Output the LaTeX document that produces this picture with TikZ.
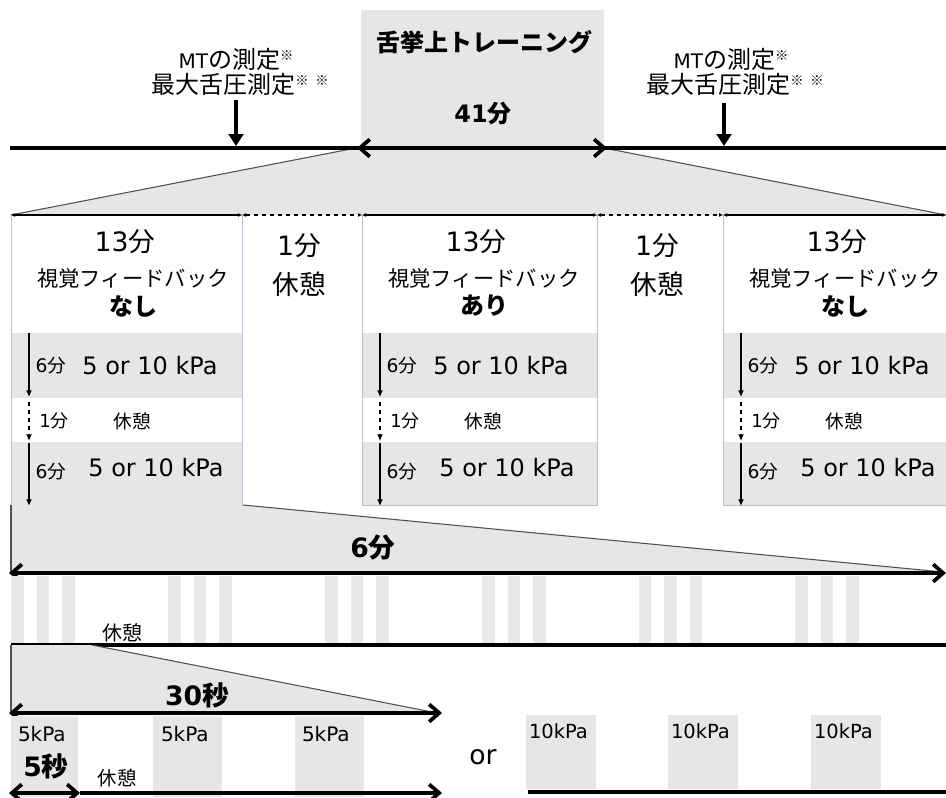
\documentclass[tikz,border=0pt]{standalone}
\usepackage{fontspec}
\setmainfont{DejaVu Sans}
\newfontfamily\cjkf{Noto Sans CJK JP}
\newcommand\jj[1]{{\cjkf #1}}
\usetikzlibrary{arrows.meta}
\definecolor{lg}{HTML}{E6E6E6}
\definecolor{stripe}{HTML}{E8E8E8}
\definecolor{bordc}{HTML}{B8C0D2}
\definecolor{edgec}{HTML}{505050}
\begin{document}
\begin{tikzpicture}[x=0.75pt,y=-0.75pt,
  every node/.style={inner sep=0pt,outer sep=0pt},
  bb/.tip={Straight Barb[length=7.5pt,width=13pt]},
  sm/.tip={Latex[length=3pt,width=3pt]},
  vt/.tip={Latex[length=5pt,width=4.5pt]},
  thickline/.style={line width=2.8pt},
  edgeline/.style={draw=edgec,line width=0.8pt},
  boxline/.style={draw=bordc,line width=0.7pt},
  segline/.style={line width=1.2pt},
  vline/.style={line width=1.3pt}]
\useasboundingbox (0,0) rectangle (946,797);

% ---------- top gray areas ----------
\fill[lg] (361,10) rectangle (604,148);
\fill[lg] (356,148) -- (604,148) -- (946,215) -- (11,215) -- cycle;
\coordinate (tpL) at (356,148); \coordinate (tpR) at (604,148);
\coordinate (tbL) at (11,215);  \coordinate (tbR) at (946,215);
\draw[edgeline] (tpL) -- (tbL);
\draw[edgeline] (tpR) -- (tbR);

% main time line
\coordinate (mL) at (10,148); \coordinate (mR) at (946,148);
\draw[thickline] (mL) -- (mR);
\coordinate (tA) at (357,148); \coordinate (tB) at (607,148);
\draw[thickline,bb-bb] (tA) -- (tB);

\node[font=\bfseries\fontsize{18}{18}\selectfont] (title) at (484,42) {\jj{舌挙上トレーニング}};
\node[font=\bfseries\fontsize{18}{18}\selectfont] (t41) at (483,114) {41\jj{分}};

% measurement arrows
\coordinate (m1s) at (236,100); \coordinate (m1e) at (236,146);
\coordinate (m2s) at (724,103); \coordinate (m2e) at (724,146);
\draw[line width=3.2pt,-{Triangle[length=9pt,width=11pt]}] (m1s) -- (m1e);
\draw[line width=3.2pt,-{Triangle[length=9pt,width=11pt]}] (m2s) -- (m2e);
\foreach \cx/\nm in {236/a,731/b}{
  \node[font=\fontsize{18}{18}\selectfont] (mt\nm) at (\cx,59)
    {{\fontsize{15}{15}\selectfont MT}\jj{の測定}\raisebox{0.6ex}{\fontsize{10}{10}\selectfont\jj{※}}};
  \node[font=\fontsize{18}{18}\selectfont] (mx\nm) at (\cx+4,84)
    {\jj{最大舌圧測定}\raisebox{0.6ex}{\fontsize{10}{10}\selectfont\jj{※}\hspace{5pt}\jj{※}}};
}

% ---------- the five blocks ----------
\foreach \x/\w in {11/231,362/235,723/230}{
  \fill[lg] (\x,333) rectangle ++(\w,65);
  \fill[lg] (\x,442) rectangle ++(\w,63);
}
\draw[boxline] (11,215) rectangle (242,505);
\draw[boxline] (362,215) rectangle (597,505);
\draw[boxline] (723,215) rectangle (950,505);

% segment line
\coordinate (s0) at (11,215); \coordinate (s1) at (242,215);
\coordinate (s2) at (362,215); \coordinate (s3) at (597,215);
\coordinate (s4) at (723,215); \coordinate (s5) at (946,215);
\draw[segline,sm-sm] (s0) -- (s1);
\draw[segline,dashed,sm-sm] (s1) -- (s2);
\draw[segline,sm-sm] (s2) -- (s3);
\draw[segline,dashed,sm-sm] (s3) -- (s4);
\draw[segline,sm-sm] (s4) -- (s5);

% block contents
\foreach \x/\fb/\nm in {11/なし/a,362/あり/b,723/なし/c}{
  \node[font=\fontsize{20}{20}\selectfont] (h\nm) at (\x+114,242) {13\jj{分}};
  \node[font=\fontsize{16}{16}\selectfont] (v\nm) at (\x+122,278) {\jj{視覚フィードバック}};
  \node[font=\bfseries\fontsize{18}{18}\selectfont] (f\nm) at (\x+122,306) {\jj{\fb}};
  \node[font=\fontsize{14}{14}\selectfont] (p\nm) at (\x+40,366) {6\jj{分}};
  \node[font=\fontsize{18}{18}\selectfont] (k\nm) at (\x+139,366) {5 or 10 kPa};
  \node[font=\fontsize{13.5}{14}\selectfont] (r\nm) at (\x+43,421) {1\jj{分}};
  \node[font=\fontsize{14}{14}\selectfont] (q\nm) at (\x+121,421) {\jj{休憩}};
  \node[font=\fontsize{14}{14}\selectfont] (u\nm) at (\x+40,472) {6\jj{分}};
  \node[font=\fontsize{18}{18}\selectfont] (w\nm) at (\x+145,468) {5 or 10 kPa};
  \coordinate (va\nm) at (\x+18,333); \coordinate (vb\nm) at (\x+18,397);
  \coordinate (vc\nm) at (\x+18,402); \coordinate (vd\nm) at (\x+18,441);
  \coordinate (ve\nm) at (\x+18,443); \coordinate (vf\nm) at (\x+18,506);
  \draw[vline,-vt] (va\nm) -- (vb\nm);
  \draw[vline,dashed,-vt] (vc\nm) -- (vd\nm);
  \draw[vline,-vt] (ve\nm) -- (vf\nm);
}
\foreach \x/\nm in {299/a,657/b}{
  \node[font=\fontsize{20}{20}\selectfont] (rest\nm) at (\x,246) {1\jj{分}};
  \node[font=\fontsize{20}{20}\selectfont] (restb\nm) at (\x,284) {\jj{休憩}};
}

% ---------- 6 minutes ----------
\fill[lg] (11,505) -- (243,505) -- (943,572) -- (11,572) -- cycle;
\coordinate (z1) at (11,505); \coordinate (z2) at (11,572);
\coordinate (z3) at (243,505); \coordinate (z4) at (943,572);
\draw[edgeline] (z1) -- (z2);
\draw[edgeline] (z3) -- (z4);
\coordinate (six1) at (9,573); \coordinate (six2) at (946,573);
\draw[thickline,bb-bb] (six1) -- (six2);
\node[font=\bfseries\fontsize{20}{20}\selectfont] (six) at (373,548) {6\jj{分}};

% stripes
\foreach \g in {11,168,325,482,638.5,795}{
  \foreach \o in {0,25.5,51}{
    \fill[stripe] (\g+\o,576) rectangle ++(12.5,67);
  }
}
\coordinate (l6a) at (11,645); \coordinate (l6b) at (946,645);
\draw[thickline] (l6a) -- (l6b);
\node[font=\fontsize{15}{15}\selectfont] (kk1) at (122,633) {\jj{休憩}};

% ---------- 30 seconds ----------
\fill[lg] (11,645) -- (92,645) -- (432,712) -- (11,712) -- cycle;
\coordinate (y1) at (11,645); \coordinate (y2) at (11,712);
\coordinate (y3) at (92,645); \coordinate (y4) at (432,712);
\draw[edgeline] (y1) -- (y2);
\draw[edgeline] (y3) -- (y4);
\coordinate (th1) at (9,713); \coordinate (th2) at (442,713);
\draw[thickline,bb-bb] (th1) -- (th2);
\node[font=\bfseries\fontsize{20}{20}\selectfont] (thirty) at (197,695) {30\jj{秒}};

\foreach \a/\b in {11/78,153/222,295/364}{
  \fill[lg] (\a,716) rectangle (\b,797);
}
\node[anchor=west,font=\fontsize{15}{15}\selectfont] (k5a) at (18,734) {5kPa};
\node[anchor=west,font=\fontsize{15}{15}\selectfont] (k5b) at (161,734) {5kPa};
\node[anchor=west,font=\fontsize{15}{15}\selectfont] (k5c) at (302,734) {5kPa};
\node[font=\bfseries\fontsize{20}{20}\selectfont] (five) at (46,766) {5\jj{秒}};
\node[font=\fontsize{14.5}{15}\selectfont] (kk2) at (117,778) {\jj{休憩}};
\coordinate (b1) at (9,793); \coordinate (b2) at (80,793); \coordinate (b3) at (442,793);
\draw[thickline,bb-bb] (b1) -- (b2);
\draw[thickline,-bb] (b2) -- (b3);

\node[font=\fontsize{20}{20}\selectfont] (or) at (483,757) {or};

\foreach \a/\b in {526/596,668/738,811/881}{
  \fill[lg] (\a,715) rectangle (\b,789);
}
\node[anchor=west,font=\fontsize{14.6}{15}\selectfont] (k10a) at (529,731) {10kPa};
\node[anchor=west,font=\fontsize{14.6}{15}\selectfont] (k10b) at (671,731) {10kPa};
\node[anchor=west,font=\fontsize{14.6}{15}\selectfont] (k10c) at (814,731) {10kPa};
\coordinate (c1) at (528,792); \coordinate (c2) at (946,792);
\draw[thickline] (c1) -- (c2);
\end{tikzpicture}
\end{document}
